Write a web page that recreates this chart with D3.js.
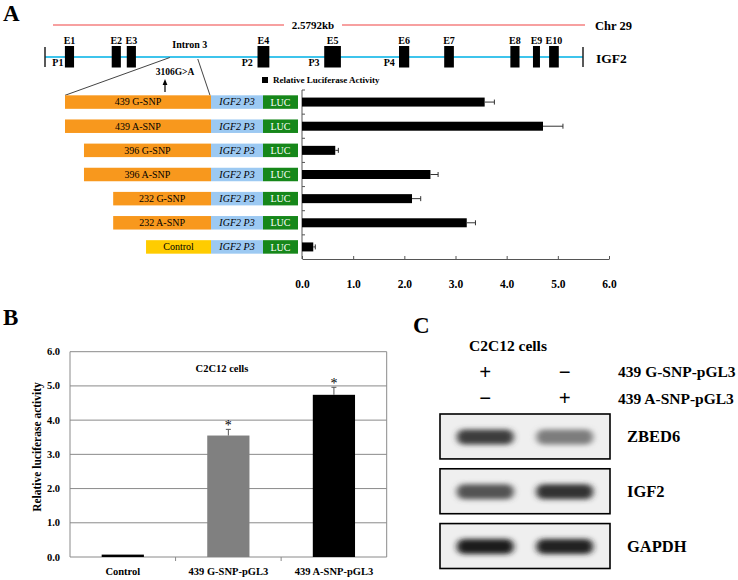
<!DOCTYPE html>
<html><head><meta charset="utf-8">
<script src="https://cdn.jsdelivr.net/npm/d3@7"></script>
<style>
body{margin:0;background:#fff}
svg{display:block}
text{font-family:"Liberation Serif","Times New Roman",serif;fill:#000}
</style>
</head><body>
<svg id="chart" width="738" height="580"></svg>
<script>
// ---------- Panel A data ----------
const constructs = ["439 G-SNP","439 A-SNP","396 G-SNP","396 A-SNP","232 G-SNP","232 A-SNP","Control"];
const luciferaseA = [3.57, 4.71, 0.65, 2.51, 2.15, 3.22, 0.22];
const errorA      = [0.19, 0.39, 0.06, 0.15, 0.17, 0.17, 0.04];
const insertStartFrac = [0, 0, 0.13, 0.13, 0.33, 0.33, 0.555];
const xTicksA = [0, 1, 2, 3, 4, 5, 6];
const exonNames = ["E1","E2","E3","E4","E5","E6","E7","E8","E9","E10"];
const exonStart = [37, 124, 152, 395, 519, 658, 742, 865, 907, 937];
const exonEnd   = [54, 141, 169, 417, 550, 677, 760, 882, 920, 955];
const promoterNames = ["P1","P2","P3","P4"];
const promoterPos   = [24, 376, 500, 640];
const intron3 = [232, 284];

// ---------- Panel B data ----------
const groupsB = ["Control","439 G-SNP-pGL3","439 A-SNP-pGL3"];
const valuesB = [0.07, 3.55, 4.74];
const errorsB = [0.00, 0.18, 0.22];
const ticksB  = [0, 1, 2, 3, 4, 5, 6];
const starsB  = ["", "*", "*"];

// ---------- Panel C data ----------
const genes = ["ZBED6","IGF2","GAPDH"];
const lanes = ["439 G-SNP-pGL3","439 A-SNP-pGL3"];
const laneG = ["+","\u2212"];
const laneA = ["\u2212","+"];
const bandIntensity = [[0.80, 0.50],[0.70, 0.84],[0.95, 0.93]];

const svg = d3.select("#chart");
const bold = s => s.attr("font-weight","bold");

// panel letters
[["A",3,21],["B",3,325],["C",413,333]].forEach(([t,x,y])=>{
  svg.append("text").attr("x",x).attr("y",y).attr("font-size",23).attr("font-weight","bold").text(t);
});

// ===================== PANEL A =====================
const gx = d3.scaleLinear().domain([0,1000]).range([45,583]);
const gA = svg.append("g");
gA.append("line").attr("x1",53).attr("x2",284).attr("y1",25).attr("y2",25).attr("stroke","#F48080").attr("stroke-width",1.5);
gA.append("line").attr("x1",342).attr("x2",585).attr("y1",25).attr("y2",25).attr("stroke","#F48080").attr("stroke-width",1.5);
bold(gA.append("text").attr("x",313).attr("y",29).attr("text-anchor","middle").attr("font-size",11).text("2.5792kb"));
bold(gA.append("text").attr("x",595).attr("y",29.5).attr("font-size",12.5).text("Chr 29"));
gA.append("line").attr("x1",gx(0)).attr("x2",gx(1000)).attr("y1",57).attr("y2",57).attr("stroke","#3EC4EC").attr("stroke-width",2);
[0,1000].forEach(v=>gA.append("line").attr("x1",gx(v)).attr("x2",gx(v)).attr("y1",47).attr("y2",67).attr("stroke","#222").attr("stroke-width",1.5));
bold(gA.append("text").attr("x",596).attr("y",62.5).attr("font-size",13.5).text("IGF2"));
exonNames.forEach((n,i)=>{
  gA.append("rect").attr("x",gx(exonStart[i])).attr("y",46).attr("width",gx(exonEnd[i])-gx(exonStart[i])).attr("height",21.5).attr("fill","#000");
  bold(gA.append("text").attr("x",(gx(exonStart[i])+gx(exonEnd[i]))/2).attr("y",43.5).attr("text-anchor","middle").attr("font-size",10).text(n));
});
promoterNames.forEach((n,i)=>{
  bold(gA.append("text").attr("x",gx(promoterPos[i])).attr("y",66).attr("text-anchor","middle").attr("font-size",10).text(n));
});
bold(gA.append("text").attr("x",(gx(intron3[0])+gx(intron3[1]))/2+6).attr("y",48).attr("text-anchor","middle").attr("font-size",10).text("Intron 3"));

const yA = d3.scaleBand().domain(constructs).range([90,259]);
const cx = d3.scaleLinear().domain([0,1]).range([65,211]);
const boxH = 13.5;
gA.append("line").attr("x1",gx(intron3[0])).attr("y1",57.5).attr("x2",cx(0)).attr("y2",yA(constructs[0])+yA.bandwidth()/2-boxH/2).attr("stroke","#444").attr("stroke-width",1);
gA.append("line").attr("x1",gx(intron3[1])).attr("y1",59).attr("x2",cx(1)-1).attr("y2",yA(constructs[0])+yA.bandwidth()/2-boxH/2).attr("stroke","#444").attr("stroke-width",1);
bold(gA.append("text").attr("x",175).attr("y",75).attr("text-anchor","middle").attr("font-size",9.5).text("3106G>A"));
svg.append("defs").append("marker").attr("id","ah").attr("viewBox","0 0 10 10").attr("refX",5).attr("refY",5)
  .attr("markerWidth",5).attr("markerHeight",5).attr("orient","auto")
  .append("path").attr("d","M0,1L10,5L0,9Z").attr("fill","#000");
gA.append("line").attr("x1",165).attr("x2",165).attr("y1",92).attr("y2",82).attr("stroke","#000").attr("stroke-width",1.2).attr("marker-end","url(#ah)");

constructs.forEach((c,i)=>{
  const yc = yA(c)+yA.bandwidth()/2;
  const y0 = yc-boxH/2;
  const isCtrl = c==="Control";
  gA.append("rect").attr("x",cx(insertStartFrac[i])).attr("y",y0).attr("width",cx(1)-cx(insertStartFrac[i])).attr("height",boxH)
    .attr("fill",isCtrl?"#FFCC00":"#F8981D");
  gA.append("text").attr("x",(cx(insertStartFrac[i])+cx(1))/2).attr("y",yc+3.4).attr("text-anchor","middle").attr("font-size",10).text(c);
  gA.append("rect").attr("x",cx(1)).attr("y",y0).attr("width",52).attr("height",boxH).attr("fill","#9CC9F2");
  gA.append("text").attr("x",cx(1)+26).attr("y",yc+3.4).attr("text-anchor","middle").attr("font-size",10).attr("font-style","italic").text("IGF2 P3");
  gA.append("rect").attr("x",cx(1)+52).attr("y",y0).attr("width",35).attr("height",boxH).attr("fill","#16871A");
  gA.append("text").attr("x",cx(1)+69.5).attr("y",yc+3.6).attr("text-anchor","middle").attr("font-size",10).style("fill","#fff").text("LUC");
});

const xA = d3.scaleLinear().domain([0,6]).range([302,609]);
const axA = gA.append("g").attr("transform","translate(0,259)")
  .call(d3.axisBottom(xA).tickValues(xTicksA).tickFormat(d3.format(".1f")).tickSizeInner(-3).tickSizeOuter(0).tickPadding(21));
axA.select(".domain").attr("stroke","#555");
axA.selectAll(".tick line").attr("stroke","#555");
axA.selectAll("text").attr("font-size",11.5).attr("font-weight","bold").attr("font-family","Liberation Serif");
gA.append("line").attr("x1",302).attr("x2",302).attr("y1",90).attr("y2",259).attr("stroke","#555");
constructs.forEach((c,i)=>{ if(i>0) gA.append("line").attr("x1",302).attr("x2",305).attr("y1",yA(c)).attr("y2",yA(c)).attr("stroke","#555"); });
gA.append("line").attr("x1",302).attr("x2",305).attr("y1",90).attr("y2",90).attr("stroke","#555");
const barHA = 9;
constructs.forEach((c,i)=>{
  const yc = yA(c)+yA.bandwidth()/2;
  gA.append("rect").attr("x",xA(0)).attr("y",yc-barHA/2).attr("width",xA(luciferaseA[i])-xA(0)).attr("height",barHA).attr("fill","#000");
  const xe = xA(luciferaseA[i]+errorA[i]);
  gA.append("line").attr("x1",xA(luciferaseA[i])).attr("x2",xe).attr("y1",yc).attr("y2",yc).attr("stroke","#333").attr("stroke-width",1);
  gA.append("line").attr("x1",xe).attr("x2",xe).attr("y1",yc-2.5).attr("y2",yc+2.5).attr("stroke","#333").attr("stroke-width",1);
});
gA.append("rect").attr("x",262).attr("y",77).attr("width",6).attr("height",6).attr("fill","#000");
bold(gA.append("text").attr("x",273).attr("y",83).attr("font-size",9).text("Relative Luciferase Activity"));

// ===================== PANEL B =====================
const gB = svg.append("g");
const yB = d3.scaleLinear().domain([0,6]).range([557,351.7]);
const xB = d3.scaleBand().domain(groupsB).range([70,386.7]).paddingInner(0.6).paddingOuter(0.3);
ticksB.forEach(t=>{
  gB.append("line").attr("x1",70).attr("x2",386.7).attr("y1",yB(t)).attr("y2",yB(t)).attr("stroke","#8a8a8a").attr("stroke-width",1);
  bold(gB.append("text").attr("x",60).attr("y",yB(t)+3.5).attr("text-anchor","end").attr("font-size",10.5).text(d3.format(".1f")(t)));
});
gB.append("line").attr("x1",70).attr("x2",70).attr("y1",yB(6)).attr("y2",yB(0)).attr("stroke","#8a8a8a");
gB.append("line").attr("x1",386.7).attr("x2",386.7).attr("y1",yB(6)).attr("y2",yB(0)).attr("stroke","#8a8a8a");
const stepB = (386.7-70)/groupsB.length;
[1,2].forEach(k=>gB.append("line").attr("x1",70+k*stepB).attr("x2",70+k*stepB).attr("y1",yB(0)).attr("y2",yB(0)+4).attr("stroke","#8a8a8a"));
const colB = ["#000","#808080","#000"];
groupsB.forEach((g,i)=>{
  gB.append("rect").attr("x",xB(g)).attr("y",yB(valuesB[i])).attr("width",xB.bandwidth()).attr("height",yB(0)-yB(valuesB[i])).attr("fill",colB[i]);
  const xc = xB(g)+xB.bandwidth()/2;
  if(errorsB[i]>0){
    gB.append("line").attr("x1",xc).attr("x2",xc).attr("y1",yB(valuesB[i])).attr("y2",yB(valuesB[i]+errorsB[i])).attr("stroke","#555");
    gB.append("line").attr("x1",xc-2.5).attr("x2",xc+2.5).attr("y1",yB(valuesB[i]+errorsB[i])).attr("y2",yB(valuesB[i]+errorsB[i])).attr("stroke","#555");
  }
  if(starsB[i]) gB.append("text").attr("x",xc).attr("y",yB(valuesB[i]+errorsB[i])+1).attr("text-anchor","middle").attr("font-size",14).style("fill","#000").text(starsB[i]);
  bold(gB.append("text").attr("x",stepB*(i+0.5)+70).attr("y",575).attr("text-anchor","middle").attr("font-size",10.5).text(g));
});
bold(gB.append("text").attr("x",222).attr("y",372).attr("text-anchor","middle").attr("font-size",10.5).text("C2C12 cells"));
bold(gB.append("text").attr("transform","translate(41,447) rotate(-90)").attr("text-anchor","middle").attr("font-size",11.5).text("Relative luciferase activity"));

// ===================== PANEL C =====================
const gC = svg.append("g");
const laneX = d3.scaleBand().domain(lanes).range([440,610]).paddingInner(0.26).paddingOuter(0.2);
const rowY = d3.scaleBand().domain(genes).range([414,568.5]).paddingInner(0.18).paddingOuter(0);
const defs = svg.select("defs");
defs.append("filter").attr("id","blur").attr("x","-30%").attr("y","-80%").attr("width","160%").attr("height","260%")
  .append("feGaussianBlur").attr("stdDeviation","3 2.8");
bold(gC.append("text").attr("x",508).attr("y",351).attr("text-anchor","middle").attr("font-size",15.5).text("C2C12 cells"));
lanes.forEach((l,j)=>{
  const xc = laneX(l)+laneX.bandwidth()/2;
  bold(gC.append("text").attr("x",xc).attr("y",379).attr("text-anchor","middle").attr("font-size",21).text(laneG[j]));
  bold(gC.append("text").attr("x",xc).attr("y",405).attr("text-anchor","middle").attr("font-size",21).text(laneA[j]));
});
bold(gC.append("text").attr("x",618).attr("y",377).attr("font-size",15.5).text("439 G-SNP-pGL3"));
bold(gC.append("text").attr("x",618).attr("y",404).attr("font-size",15.5).text("439 A-SNP-pGL3"));
genes.forEach((g,i)=>{
  const y0 = rowY(g), h = rowY.bandwidth();
  const cp = defs.append("clipPath").attr("id","cp"+i);
  cp.append("rect").attr("x",440).attr("y",y0).attr("width",170).attr("height",h);
  gC.append("rect").attr("x",440).attr("y",y0).attr("width",170).attr("height",h).attr("fill","#efefef");
  const gg = gC.append("g").attr("clip-path","url(#cp"+i+")");
  lanes.forEach((l,j)=>{
    const col = d3.interpolateRgb("#e8e8e8","#111")(bandIntensity[i][j]);
    gg.append("rect").attr("x",laneX(l)+1).attr("y",y0+h/2-7).attr("width",laneX.bandwidth()-2).attr("height",15).attr("rx",7)
      .attr("fill",col).attr("filter","url(#blur)");
  });
  gC.append("rect").attr("x",440).attr("y",y0).attr("width",170).attr("height",h).attr("fill","none").attr("stroke","#000").attr("stroke-width",1.6);
  bold(gC.append("text").attr("x",627).attr("y",y0+h/2+5.5).attr("font-size",16.5).text(g));
});
</script>
</body></html>
